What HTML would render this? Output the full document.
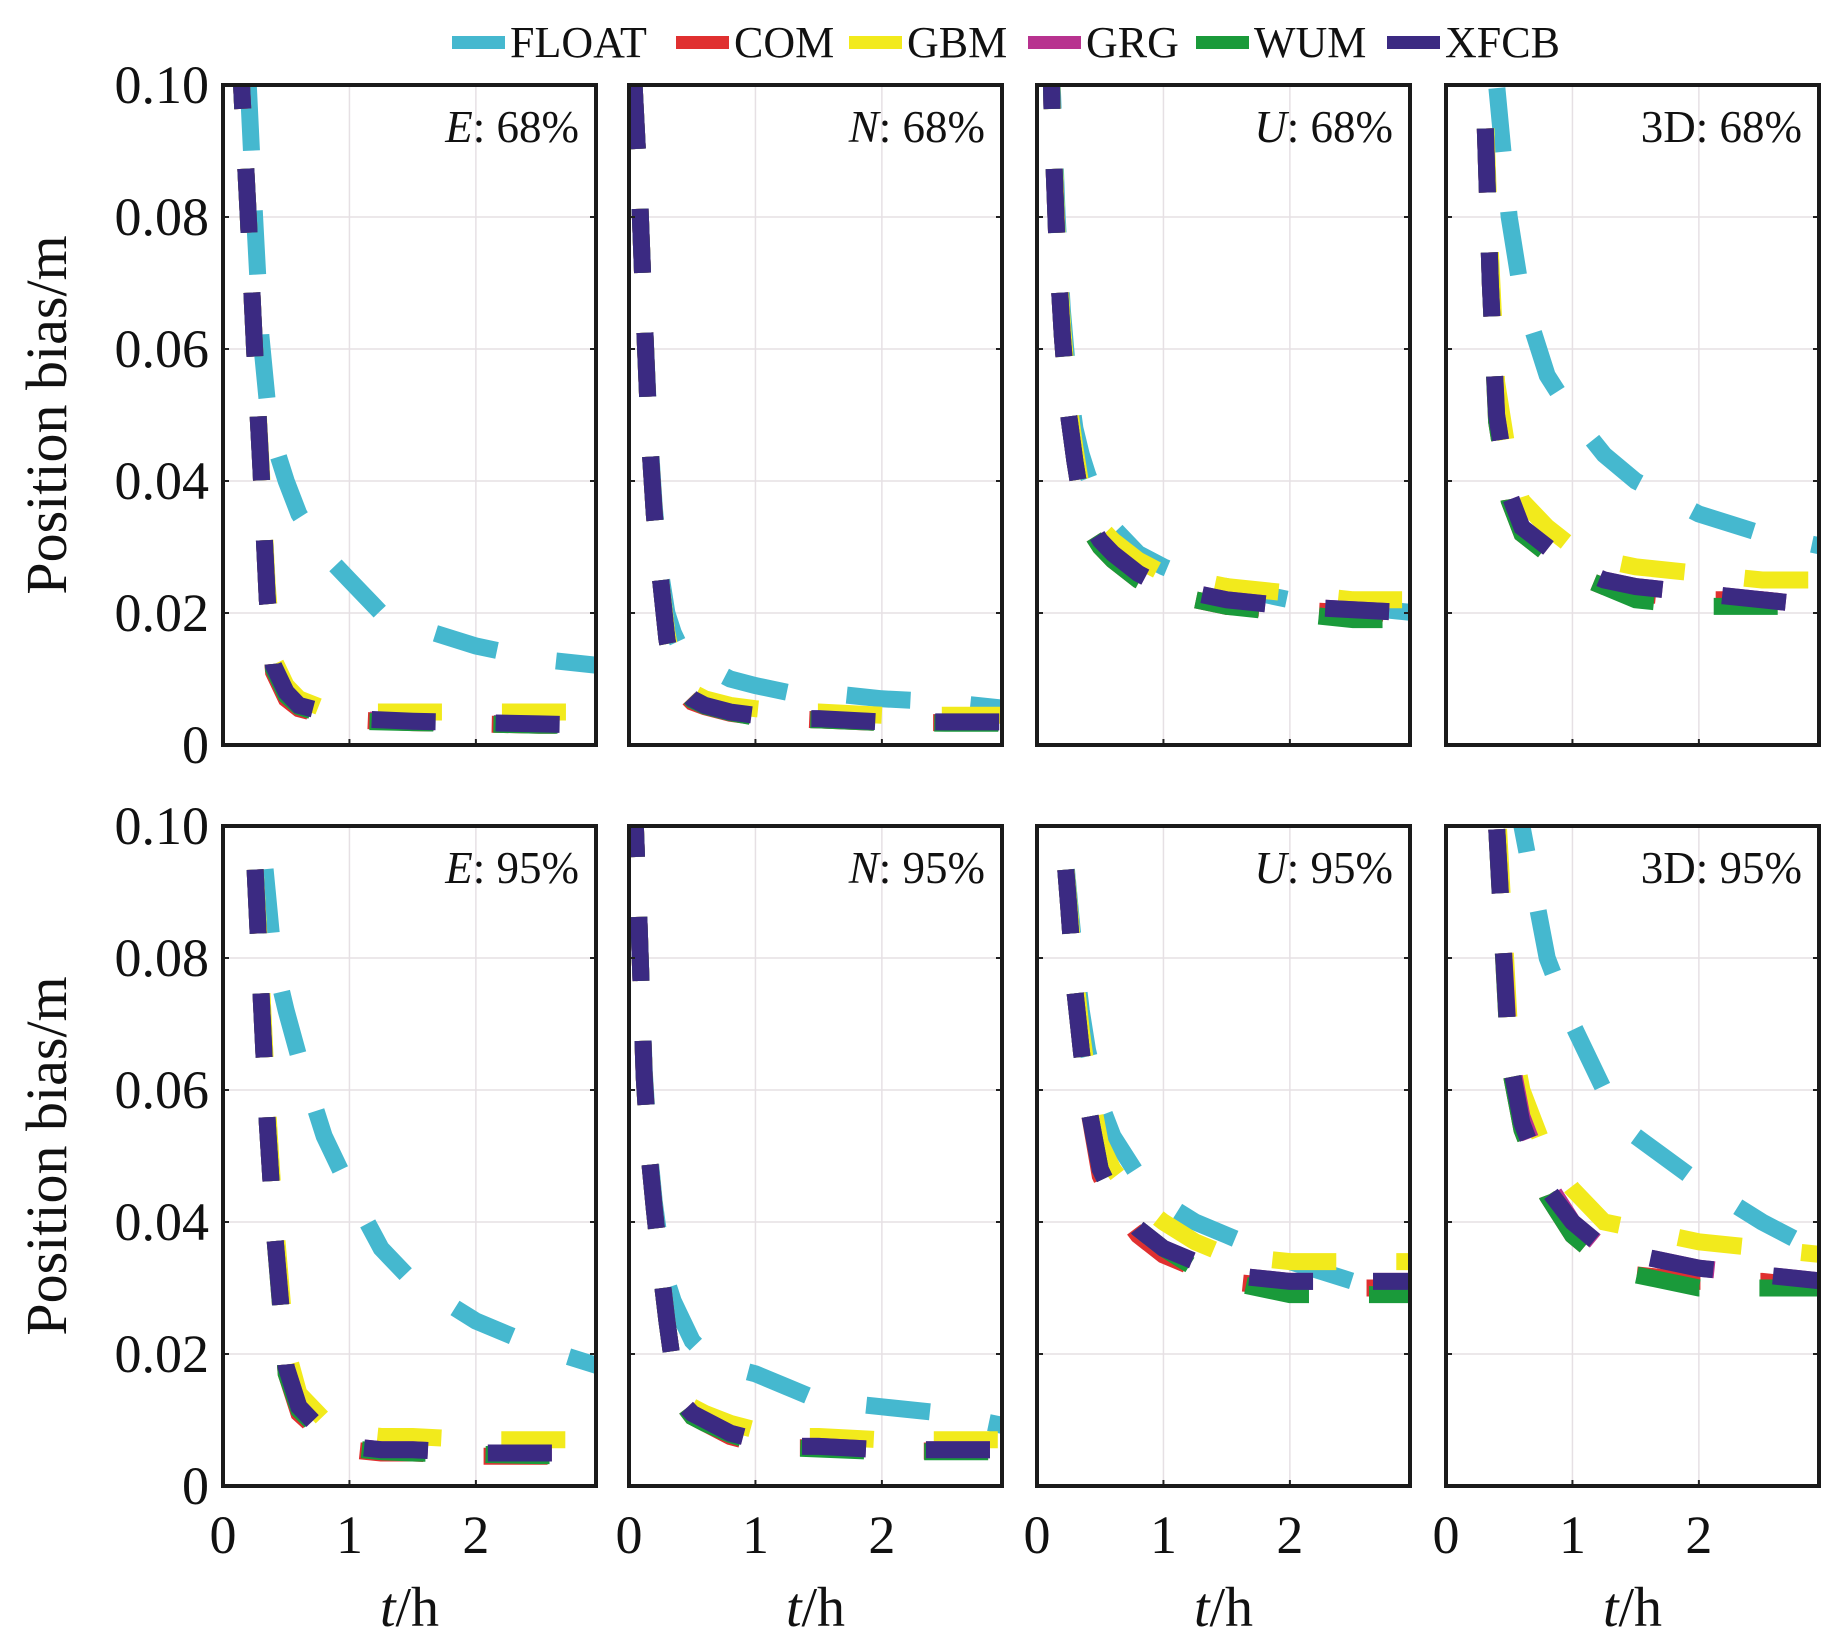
<!DOCTYPE html>
<html><head><meta charset="utf-8"><style>
html,body{margin:0;padding:0;background:#fff;}
svg{display:block;}
text{font-family:"Liberation Serif","DejaVu Serif",serif;}
</style></head><body>
<svg id="chart" width="1843" height="1642" viewBox="0 0 1843 1642" xmlns="http://www.w3.org/2000/svg" font-family="Liberation Serif, serif"></svg>
<script>
const T = [0.04,0.08,0.12,0.16,0.2,0.25,0.3,0.35,0.4,0.5,0.6,0.8,1.0,1.25,1.5,2,2.5,3];
const seriesNames = ["FLOAT","COM","GBM","GRG","WUM","XFCB"];
const seriesColors = ["#45b8cf","#e03030","#f2ea1c","#b8328f","#1a9a3a","#3b2a82"];
const panelTitles = ["E: 68%","N: 68%","U: 68%","3D: 68%","E: 95%","N: 95%","U: 95%","3D: 95%"];
const xTicks = [0,1,2];
const yTicks = [0,0.02,0.04,0.06,0.08,0.10];
const yTickLabels = ["0","0.02","0.04","0.06","0.08","0.10"];
// values per panel: [FLOAT, COM, GBM, GRG, WUM, XFCB]
const E68 = [
 [0.25,0.18,0.14,0.12,0.1,0.08,0.062,0.052,0.046,0.04,0.035,0.029,0.025,0.02,0.018,0.015,0.013,0.012],
 [0.2,0.15,0.11,0.095,0.08,0.06,0.042,0.022,0.011,0.007,0.0055,0.0045,0.0038,0.0036,0.0034,0.0032,0.003,0.003],
 [0.2,0.15,0.11,0.095,0.08,0.06,0.043,0.024,0.013,0.009,0.007,0.0055,0.005,0.005,0.005,0.005,0.005,0.005],
 [0.2,0.15,0.11,0.095,0.08,0.06,0.042,0.022,0.0115,0.0075,0.0058,0.0046,0.0039,0.0037,0.0035,0.0033,0.0031,0.003],
 [0.2,0.15,0.11,0.095,0.08,0.06,0.042,0.022,0.0115,0.0075,0.0058,0.0046,0.0036,0.0035,0.0034,0.0032,0.003,0.003],
 [0.2,0.15,0.11,0.095,0.08,0.06,0.042,0.022,0.012,0.008,0.006,0.005,0.004,0.0038,0.0036,0.0034,0.0032,0.003]];
const N68 = [
 [0.1,0.085,0.065,0.048,0.036,0.026,0.02,0.017,0.015,0.013,0.012,0.01,0.009,0.008,0.008,0.007,0.0065,0.0055],
 [0.1,0.085,0.065,0.047,0.035,0.025,0.016,0.011,0.0085,0.0065,0.0058,0.0048,0.0043,0.004,0.0038,0.0034,0.0034,0.0034],
 [0.1,0.085,0.065,0.047,0.035,0.025,0.017,0.012,0.01,0.008,0.007,0.006,0.0055,0.005,0.005,0.0045,0.0045,0.0045],
 [0.1,0.085,0.065,0.047,0.035,0.025,0.016,0.011,0.0088,0.0068,0.0059,0.0049,0.0044,0.004,0.0038,0.0035,0.0034,0.0034],
 [0.1,0.085,0.065,0.047,0.035,0.025,0.016,0.011,0.0088,0.0068,0.0059,0.0049,0.0042,0.0039,0.0038,0.0034,0.0033,0.0033],
 [0.1,0.085,0.065,0.047,0.035,0.025,0.016,0.011,0.009,0.007,0.006,0.005,0.0045,0.004,0.004,0.0035,0.0035,0.0035]];
const U68 = [
 [0.2,0.13,0.1,0.08,0.066,0.055,0.048,0.044,0.041,0.036,0.033,0.029,0.027,0.025,0.024,0.022,0.021,0.02],
 [0.2,0.13,0.095,0.075,0.062,0.05,0.043,0.037,0.033,0.03,0.028,0.025,0.023,0.022,0.021,0.0205,0.02,0.02],
 [0.2,0.13,0.097,0.077,0.064,0.052,0.045,0.039,0.036,0.033,0.031,0.028,0.026,0.025,0.024,0.023,0.022,0.022],
 [0.2,0.13,0.095,0.075,0.062,0.05,0.043,0.037,0.034,0.031,0.029,0.026,0.024,0.023,0.022,0.021,0.0205,0.02],
 [0.2,0.13,0.095,0.075,0.062,0.05,0.043,0.037,0.033,0.03,0.028,0.025,0.023,0.022,0.021,0.02,0.019,0.019],
 [0.2,0.13,0.095,0.075,0.062,0.05,0.043,0.037,0.034,0.031,0.029,0.026,0.024,0.023,0.022,0.021,0.0205,0.02]];
const D68 = [
 [0.4,0.3,0.25,0.2,0.17,0.15,0.13,0.115,0.1,0.08,0.068,0.056,0.05,0.044,0.04,0.035,0.032,0.03],
 [0.3,0.25,0.2,0.17,0.15,0.125,0.1,0.07,0.049,0.037,0.032,0.029,0.026,0.024,0.023,0.022,0.022,0.021],
 [0.3,0.25,0.2,0.17,0.15,0.125,0.102,0.075,0.055,0.043,0.037,0.033,0.03,0.028,0.027,0.026,0.025,0.025],
 [0.3,0.25,0.2,0.17,0.15,0.125,0.1,0.07,0.05,0.038,0.033,0.03,0.027,0.025,0.024,0.023,0.022,0.021],
 [0.3,0.25,0.2,0.17,0.15,0.125,0.1,0.07,0.049,0.037,0.032,0.029,0.026,0.024,0.022,0.021,0.021,0.021],
 [0.3,0.25,0.2,0.17,0.15,0.125,0.1,0.07,0.05,0.038,0.033,0.03,0.027,0.025,0.024,0.023,0.022,0.021]];
const E95 = [
 [0.3,0.22,0.18,0.15,0.13,0.115,0.1,0.09,0.08,0.072,0.065,0.053,0.045,0.036,0.031,0.025,0.021,0.018],
 [0.3,0.2,0.16,0.13,0.11,0.095,0.075,0.055,0.04,0.017,0.011,0.0075,0.0055,0.005,0.005,0.0045,0.0045,0.0045],
 [0.3,0.2,0.16,0.13,0.11,0.095,0.078,0.058,0.043,0.021,0.014,0.01,0.008,0.0075,0.0075,0.007,0.007,0.007],
 [0.3,0.2,0.16,0.13,0.11,0.095,0.075,0.055,0.04,0.018,0.012,0.008,0.006,0.0055,0.0055,0.005,0.005,0.005],
 [0.3,0.2,0.16,0.13,0.11,0.095,0.075,0.055,0.04,0.017,0.0115,0.0078,0.0057,0.0052,0.005,0.0048,0.0046,0.0046],
 [0.3,0.2,0.16,0.13,0.11,0.095,0.075,0.055,0.04,0.018,0.012,0.008,0.006,0.0055,0.0055,0.005,0.005,0.005]];
const N95 = [
 [0.105,0.085,0.063,0.051,0.043,0.036,0.031,0.028,0.026,0.022,0.02,0.018,0.017,0.015,0.013,0.012,0.011,0.009],
 [0.105,0.085,0.062,0.05,0.042,0.033,0.025,0.018,0.013,0.0105,0.0095,0.0075,0.0065,0.0058,0.0058,0.0053,0.0053,0.0053],
 [0.105,0.085,0.062,0.05,0.042,0.033,0.025,0.018,0.014,0.012,0.011,0.0095,0.0085,0.0075,0.0075,0.007,0.007,0.007],
 [0.105,0.085,0.062,0.05,0.042,0.033,0.025,0.018,0.013,0.011,0.01,0.008,0.007,0.006,0.006,0.0055,0.0055,0.0055],
 [0.105,0.085,0.062,0.05,0.042,0.033,0.025,0.018,0.013,0.0105,0.0095,0.0078,0.0066,0.0058,0.0056,0.0052,0.0052,0.0052],
 [0.105,0.085,0.062,0.05,0.042,0.033,0.025,0.018,0.013,0.011,0.01,0.008,0.007,0.006,0.006,0.0055,0.0055,0.0055]];
const U95 = [
 [0.3,0.2,0.15,0.12,0.1,0.09,0.08,0.072,0.066,0.058,0.053,0.047,0.043,0.04,0.038,0.034,0.031,0.029],
 [0.3,0.2,0.15,0.12,0.1,0.088,0.075,0.066,0.058,0.047,0.043,0.038,0.035,0.033,0.031,0.03,0.03,0.03],
 [0.3,0.2,0.15,0.12,0.1,0.089,0.078,0.069,0.062,0.052,0.048,0.043,0.04,0.037,0.035,0.034,0.034,0.034],
 [0.3,0.2,0.15,0.12,0.1,0.088,0.075,0.066,0.058,0.048,0.044,0.039,0.036,0.034,0.032,0.031,0.031,0.031],
 [0.3,0.2,0.15,0.12,0.1,0.088,0.075,0.066,0.058,0.048,0.044,0.039,0.036,0.033,0.031,0.029,0.029,0.029],
 [0.3,0.2,0.15,0.12,0.1,0.088,0.075,0.066,0.058,0.048,0.044,0.039,0.036,0.034,0.032,0.031,0.031,0.031]];
const D95 = [
 [0.5,0.4,0.35,0.3,0.27,0.24,0.2,0.17,0.15,0.12,0.1,0.08,0.07,0.06,0.053,0.046,0.04,0.035],
 [0.4,0.35,0.3,0.25,0.2,0.17,0.14,0.12,0.1,0.064,0.054,0.044,0.038,0.034,0.032,0.031,0.031,0.03],
 [0.4,0.35,0.3,0.25,0.2,0.17,0.145,0.125,0.105,0.07,0.06,0.05,0.045,0.04,0.039,0.037,0.036,0.035],
 [0.4,0.35,0.3,0.25,0.2,0.17,0.14,0.12,0.1,0.066,0.056,0.046,0.04,0.036,0.035,0.033,0.032,0.031],
 [0.4,0.35,0.3,0.25,0.2,0.17,0.14,0.12,0.1,0.064,0.054,0.044,0.038,0.034,0.032,0.03,0.03,0.03],
 [0.4,0.35,0.3,0.25,0.2,0.17,0.14,0.12,0.1,0.065,0.055,0.045,0.04,0.036,0.035,0.033,0.032,0.031]];
const panelData = [E68,N68,U68,D68,E95,N95,U95,D95];

const NS = "http://www.w3.org/2000/svg";
const svg = document.getElementById("chart");
const SERIF = '"Liberation Serif", serif';
function mk(tag, attrs, parent){ const e=document.createElementNS(NS,tag); for(const k in attrs) e.setAttribute(k,attrs[k]); if(tag==="text") e.style.fontFamily=SERIF; (parent||svg).appendChild(e); return e; }

const colX = [223,629,1037,1446], PW = 373;
const rowY = [85,826], PH = 660;
const XMAX = 2.95, YMAX = 0.1;

// legend
const legX = [452,676,849,1028,1196,1387];
const defs = mk("defs",{});
seriesNames.forEach((n,i)=>{
  const g = mk("g",{});
  
  
  mk("rect",{x:legX[i],y:36,width:53,height:13,fill:seriesColors[i]},g);
  const t = mk("text",{x:legX[i]+58,y:57,"font-size":44,fill:"#111"},g);
  t.textContent = n;
});

panelData.forEach((data,p)=>{
  const px = colX[p%4], py = rowY[Math.floor(p/4)];
  const sx = v => px + v/XMAX*PW;
  const sy = v => py + PH - v/YMAX*PH;
  const g = mk("g",{});
  
  
  const cp = mk("clipPath",{id:"c"+p},defs);
  mk("rect",{x:px,y:py,width:PW,height:PH},cp);
  xTicks.slice(1).forEach(v=>{ const l=mk("line",{x1:sx(v),x2:sx(v),y1:py,y2:py+PH,stroke:"#e6e0e4","stroke-width":1.5},g);   });
  yTicks.slice(1,-1).forEach(v=>{ const l=mk("line",{x1:px,x2:px+PW,y1:sy(v),y2:sy(v),stroke:"#e6e0e4","stroke-width":1.5},g);   });
  const sg = mk("g",{"clip-path":"url(#c"+p+")"},g);
  data.forEach((vals,si)=>{
    const d = vals.map((v,k)=>(k?"L":"M")+sx(T[k]).toFixed(1)+","+sy(v).toFixed(1)).join("");
    const path = mk("path",{d:d,fill:"none",stroke:seriesColors[si],"stroke-width":17,"stroke-dasharray":"64 60"},sg);
    
    
  });
  xTicks.slice(1).forEach(v=>{ mk("line",{x1:sx(v),x2:sx(v),y1:py+PH-6,y2:py+PH,stroke:"#222","stroke-width":2},g); });
  yTicks.slice(1,-1).forEach(v=>{ mk("line",{x1:px,x2:px+6,y1:sy(v),y2:sy(v),stroke:"#222","stroke-width":2},g); mk("line",{x1:px+PW-6,x2:px+PW,y1:sy(v),y2:sy(v),stroke:"#222","stroke-width":2},g); });
  const fr = mk("rect",{x:px,y:py,width:PW,height:PH,fill:"none",stroke:"#1a1a1a","stroke-width":4},g);
  
  
  const parts = panelTitles[p].split(":");
  const tt = mk("text",{x:px+PW-17,y:py+57,"font-size":45,"text-anchor":"end",fill:"#111"},g);
  
  
  const ts1 = mk("tspan",{"font-style": parts[0]==="3D"?"normal":"italic"},tt); ts1.textContent = parts[0];
  const ts2 = mk("tspan",{},tt); ts2.textContent = ":"+parts[1];
  if(p%4===0){
    yTicks.forEach((v,k)=>{ const t=mk("text",{x:209,y:sy(v)+18,"font-size":54,"text-anchor":"end",fill:"#111"},g); t.textContent=yTickLabels[k];   });
    const yl = mk("text",{x:0,y:0,"font-size":58,"text-anchor":"middle",fill:"#111",transform:"translate(66,"+(py+PH/2)+") rotate(-90)"},g);
    yl.textContent = "Position bias/m";
    
    
  }
  if(p>=4){
    xTicks.forEach(v=>{ const t=mk("text",{x:sx(v),y:1553,"font-size":54,"text-anchor":"middle",fill:"#111"},g); t.textContent=String(v);   });
    const xl = mk("text",{x:px+PW/2,y:1626,"font-size":56,"text-anchor":"middle",fill:"#111"},g);
    
    
    const a = mk("tspan",{"font-style":"italic"},xl); a.textContent="t";
    const b = mk("tspan",{},xl); b.textContent="/h";
  }
});
</script>
</body></html>
